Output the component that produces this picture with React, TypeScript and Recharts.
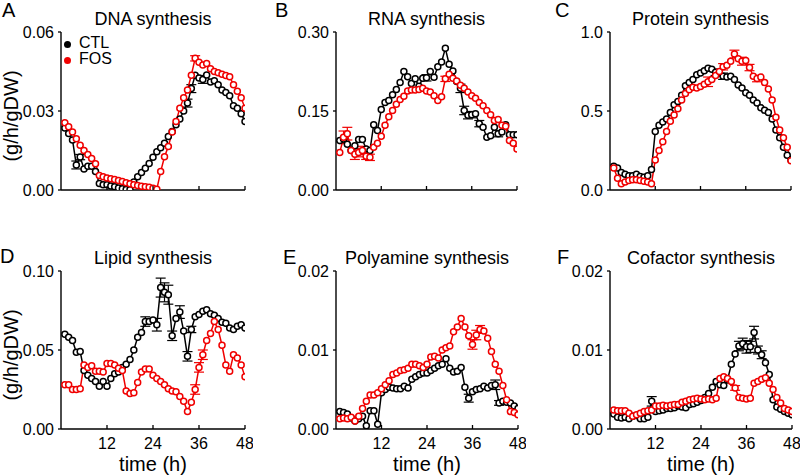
import React from 'react';
import { LineChart, Line, XAxis, YAxis, ErrorBar, Legend } from 'recharts';

const FONT = '"Liberation Sans", Arial, Helvetica, sans-serif';
const BLACK = '#000000';
const RED = '#f00000';

// ---- data ----
const hours = [1, 2, 3, 4, 5, 6, 7, 8, 9, 10, 11, 12, 13, 14, 15, 16, 17, 18, 19, 20, 21, 22, 23, 24,
  25, 26, 27, 28, 29, 30, 31, 32, 33, 34, 35, 36, 37, 38, 39, 40, 41, 42, 43, 44, 45, 46, 47, 48];
const xTicks = [12, 24, 36, 48];
const seriesNames = ['CTL', 'FOS'];

const dnaCtl = [0.0235, 0.0215, 0.019, 0.0095, 0.0125, 0.008, 0.009, 0.009, 0.007, 0.0025, 0.002, 0.002,
  0.0015, 0.0012, 0.0008, 0.0005, 0.0002, 0.0001, 0.003, 0.005, 0.0066, 0.0083, 0.0101, 0.0124,
  0.0145, 0.016, 0.0178, 0.0203, 0.0222, 0.0248, 0.027, 0.03, 0.033, 0.0385, 0.0436, 0.0425,
  0.042, 0.0437, 0.041, 0.0415, 0.04, 0.038, 0.037, 0.0358, 0.032, 0.031, 0.029, 0.026];
const dnaFos = [0.0255, 0.024, 0.022, 0.0195, 0.017, 0.015, 0.0135, 0.012, 0.01, 0.0055, 0.005, 0.0046,
  0.0043, 0.004, 0.0036, 0.0032, 0.0028, 0.0024, 0.002, 0.0017, 0.0014, 0.0012, 0.001, 0.0007,
  0.0003, 0.007, 0.0126, 0.0165, 0.022, 0.026, 0.031, 0.035, 0.038, 0.0436, 0.05, 0.0485,
  0.0475, 0.048, 0.046, 0.045, 0.0445, 0.044, 0.0435, 0.043, 0.04, 0.0375, 0.035, 0.031];
const dnaCtlErr: [number, number][] = [[4, 0.0015], [5, 0.001], [33, 0.0015], [34, 0.0015], [37, 0.0015]];
const dnaFosErr: [number, number][] = [[35, 0.001]];

const rnaCtl = [0.094, 0.097, 0.087, 0.075, 0.084, 0.096, 0.096, 0.078, 0.075, 0.124, 0.113, 0.153,
  0.166, 0.17, 0.181, 0.191, 0.204, 0.225, 0.215, 0.202, 0.211, 0.197, 0.212, 0.213,
  0.225, 0.214, 0.234, 0.243, 0.269, 0.239, 0.226, 0.206, 0.193, 0.151, 0.142, 0.143,
  0.145, 0.126, 0.119, 0.1, 0.103, 0.119, 0.107, 0.11, 0.124, 0.105, 0.105, 0.105];
const rnaFos = [0.071, 0.1, 0.107, 0.075, 0.068, 0.071, 0.075, 0.064, 0.062, 0.081, 0.089, 0.102,
  0.123, 0.139, 0.151, 0.163, 0.172, 0.178, 0.188, 0.19, 0.19, 0.191, 0.193, 0.188,
  0.186, 0.179, 0.17, 0.177, 0.211, 0.22, 0.212, 0.207, 0.199, 0.193, 0.186, 0.179,
  0.174, 0.166, 0.16, 0.151, 0.143, 0.132, 0.134, 0.123, 0.121, 0.094, 0.089, 0.078];
const rnaCtlErr: [number, number][] = [[24, 0.006], [33, 0.008], [34, 0.008], [35, 0.007], [36, 0.006], [38, 0.006], [43, 0.006]];
const rnaFosErr: [number, number][] = [[2, 0.012], [3, 0.012], [5, 0.01], [6, 0.008], [7, 0.008], [8, 0.006], [9, 0.006], [29, 0.005]];

const protCtl = [0.15, 0.14, 0.11, 0.1, 0.09, 0.09, 0.1, 0.085, 0.08, 0.09, 0.13, 0.37,
  0.41, 0.43, 0.45, 0.49, 0.54, 0.56, 0.6, 0.66, 0.68, 0.7, 0.73, 0.74,
  0.755, 0.77, 0.765, 0.745, 0.74, 0.72, 0.715, 0.72, 0.7, 0.665, 0.645, 0.615,
  0.6, 0.57, 0.55, 0.52, 0.505, 0.49, 0.45, 0.38, 0.33, 0.27, 0.22, 0.19];
const protFos = [0.14, 0.075, 0.04, 0.05, 0.06, 0.065, 0.065, 0.06, 0.055, 0.05, 0.04, 0.19,
  0.25, 0.305, 0.37, 0.435, 0.475, 0.515, 0.57, 0.61, 0.635, 0.65, 0.645, 0.655,
  0.67, 0.685, 0.7, 0.725, 0.75, 0.78, 0.79, 0.815, 0.86, 0.83, 0.815, 0.82,
  0.775, 0.72, 0.705, 0.715, 0.68, 0.64, 0.57, 0.46, 0.38, 0.33, 0.27, 0.185];
const protCtlErr: [number, number][] = [[28, 0.02], [30, 0.02]];
const protFosErr: [number, number][] = [[26, 0.03], [30, 0.02], [33, 0.025], [35, 0.025], [37, 0.02], [39, 0.02]];

const lipCtl = [0.06, 0.058, 0.056, 0.0485, 0.049, 0.037, 0.034, 0.032, 0.03, 0.027, 0.03, 0.027,
  0.032, 0.035, 0.036, 0.039, 0.041, 0.044, 0.05, 0.058, 0.061, 0.068, 0.068, 0.069,
  0.066, 0.0895, 0.0865, 0.085, 0.059, 0.07, 0.074, 0.062, 0.046, 0.063, 0.071, 0.0725,
  0.0745, 0.0755, 0.073, 0.072, 0.07, 0.0675, 0.067, 0.064, 0.063, 0.065, 0.066, 0.064];
const lipFos = [0.028, 0.028, 0.025, 0.025, 0.0255, 0.0405, 0.039, 0.04, 0.0365, 0.0365, 0.036, 0.0415,
  0.0415, 0.0405, 0.0385, 0.037, 0.024, 0.0225, 0.023, 0.0295, 0.036, 0.038, 0.038, 0.034,
  0.032, 0.03, 0.028, 0.0255, 0.024, 0.0235, 0.0205, 0.0175, 0.011, 0.017, 0.025, 0.039,
  0.047, 0.056, 0.0605, 0.068, 0.063, 0.053, 0.0405, 0.0365, 0.047, 0.045, 0.0405, 0.033];
const lipCtlErr: [number, number][] = [[22, 0.003], [25, 0.004], [26, 0.006], [27, 0.006], [28, 0.006], [29, 0.003], [31, 0.004], [33, 0.003], [34, 0.002]];
const lipFosErr: [number, number][] = [[35, 0.003], [36, 0.003], [37, 0.003]];

const polyCtl = [0.0022, 0.0021, 0.0019, 0.0014, 0.001, 0.0013, 0.0016, 0.0004, 0.0023, 0.0023, 0.0006, 0.0046,
  0.005, 0.0053, 0.0052, 0.0051, 0.0051, 0.0054, 0.0052, 0.0063, 0.0066, 0.0069, 0.0071, 0.0071,
  0.0074, 0.0077, 0.008, 0.0082, 0.0089, 0.0077, 0.0072, 0.0073, 0.0078, 0.0053, 0.0039, 0.0047,
  0.005, 0.0051, 0.0054, 0.0052, 0.0055, 0.0056, 0.0033, 0.0035, 0.0034, 0.0033, 0.0029, 0.0026];
const polyFos = [0.0013, 0.0014, 0.0013, 0.0015, 0.001, 0.0016, 0.0026, 0.0035, 0.0043, 0.0043, 0.0046, 0.0051,
  0.0056, 0.0061, 0.0069, 0.0071, 0.0074, 0.0075, 0.0077, 0.0082, 0.0082, 0.008, 0.0078, 0.0082,
  0.0091, 0.0092, 0.009, 0.01, 0.0103, 0.0105, 0.0123, 0.0129, 0.014, 0.0129, 0.0118, 0.0107,
  0.0119, 0.0126, 0.0124, 0.0115, 0.0098, 0.0082, 0.0073, 0.0055, 0.0037, 0.0022, 0.0021, 0.0018];
const polyCtlErr: [number, number][] = [[35, 0.0005], [42, 0.0006], [43, 0.0003]];
const polyFosErr: [number, number][] = [[36, 0.0006], [37, 0.0006], [38, 0.0005]];

const cofCtl = [0.0019, 0.0015, 0.0014, 0.0015, 0.0013, 0.0016, 0.0017, 0.0013, 0.0013, 0.0015, 0.0035, 0.0022,
  0.0023, 0.0024, 0.0026, 0.0026, 0.0027, 0.0029, 0.0028, 0.0027, 0.0031, 0.0032, 0.0034, 0.0036,
  0.004, 0.0045, 0.0053, 0.006, 0.0056, 0.0055, 0.0062, 0.0082, 0.0095, 0.0105, 0.0108, 0.0104,
  0.0104, 0.0122, 0.01, 0.0094, 0.0084, 0.0069, 0.0037, 0.0028, 0.0025, 0.0022, 0.002, 0.0018];
const cofFos = [0.0024, 0.0023, 0.0023, 0.0023, 0.002, 0.0016, 0.0018, 0.002, 0.0022, 0.0023, 0.0024, 0.0029,
  0.0029, 0.003, 0.0029, 0.003, 0.0031, 0.0031, 0.0034, 0.0035, 0.0037, 0.0038, 0.0039, 0.0038,
  0.0037, 0.0038, 0.0037, 0.0039, 0.0064, 0.0066, 0.0064, 0.006, 0.0052, 0.004, 0.0039, 0.0038,
  0.0039, 0.0058, 0.006, 0.0063, 0.0065, 0.0058, 0.005, 0.004, 0.0033, 0.0026, 0.0024, 0.0022];
const cofCtlErr: [number, number][] = [[11, 0.0006], [34, 0.0006], [35, 0.0007], [36, 0.0008], [37, 0.0007], [38, 0.0008], [39, 0.0005], [40, 0.0005]];
const cofFosErr: [number, number][] = [[33, 0.0003]];

function buildRows(ctl: number[], fos: number[], ctlErr: [number, number][], fosErr: [number, number][]) {
  const ce = new Map(ctlErr);
  const fe = new Map(fosErr);
  return hours.map((t, i) => ({ t, ctl: ctl[i], fos: fos[i], ctlErr: ce.get(t), fosErr: fe.get(t) }));
}

// ---- layout ----
const panels = [
  { letter: 'A', title: 'DNA synthesis', rows: buildRows(dnaCtl, dnaFos, dnaCtlErr, dnaFosErr), yTicks: [0, 0.03, 0.06], dec: 2, left: 61, top: 32, w: 184, h: 158, bottom: false, legend: true, ylab: true, lx: 2, ly: 17 },
  { letter: 'B', title: 'RNA synthesis', rows: buildRows(rnaCtl, rnaFos, rnaCtlErr, rnaFosErr), yTicks: [0, 0.15, 0.3], dec: 2, left: 336, top: 32, w: 181, h: 158, bottom: false, legend: false, ylab: false, lx: 275, ly: 17 },
  { letter: 'C', title: 'Protein synthesis', rows: buildRows(protCtl, protFos, protCtlErr, protFosErr), yTicks: [0, 0.5, 1.0], dec: 1, left: 610, top: 32, w: 181, h: 158, bottom: false, legend: false, ylab: false, lx: 555, ly: 17 },
  { letter: 'D', title: 'Lipid synthesis', rows: buildRows(lipCtl, lipFos, lipCtlErr, lipFosErr), yTicks: [0, 0.05, 0.1], dec: 2, left: 61, top: 271, w: 184, h: 158, bottom: true, legend: false, ylab: true, lx: 0, ly: 263 },
  { letter: 'E', title: 'Polyamine synthesis', rows: buildRows(polyCtl, polyFos, polyCtlErr, polyFosErr), yTicks: [0, 0.01, 0.02], dec: 2, left: 336, top: 271, w: 182, h: 158, bottom: true, legend: false, ylab: false, lx: 283, ly: 264 },
  { letter: 'F', title: 'Cofactor synthesis', rows: buildRows(cofCtl, cofFos, cofCtlErr, cofFosErr), yTicks: [0, 0.01, 0.02], dec: 2, left: 610, top: 271, w: 182, h: 158, bottom: true, legend: false, ylab: false, lx: 557, ly: 264 },
];

const YW = 60;
const MT = 10;
const MR = 8;

function XTick(props: any) {
  const { x, y, payload, showLabel } = props;
  return (
    <g>
      <line x1={x} x2={x} y1={y} y2={y - 4} stroke={BLACK} strokeWidth={1.3} />
      {showLabel && (
        <text x={x} y={y + 20} textAnchor="middle" fontSize={16} fontFamily={FONT} fill={BLACK}>
          {payload.value}
        </text>
      )}
    </g>
  );
}

function Panel({ p }: { p: any }) {
  const XH = p.bottom ? 44 : 14;
  const width = YW + p.w + MR;
  const height = MT + p.h + XH;
  const ymax = p.yTicks[p.yTicks.length - 1];
  return (
    <div style={{ position: 'absolute', left: p.left - YW, top: p.top - MT, width, height }}>
      <LineChart width={width} height={height} data={p.rows} margin={{ top: MT, right: MR, left: 0, bottom: 0 }}>
        <XAxis
          dataKey="t"
          type="number"
          domain={[0, 48]}
          ticks={xTicks}
          interval={0}
          height={XH}
          allowDataOverflow
          axisLine={{ stroke: BLACK, strokeWidth: 1.4 }}
          tickLine={false}
          tickSize={0}
          tickMargin={0}
          tick={(tp: any) => <XTick {...tp} showLabel={p.bottom} />}
        />
        <YAxis
          type="number"
          domain={[0, ymax]}
          ticks={p.yTicks}
          interval={0}
          width={YW}
          allowDataOverflow
          axisLine={{ stroke: BLACK, strokeWidth: 1.4 }}
          tickLine={{ stroke: BLACK, strokeWidth: 1.3 }}
          tickSize={3}
          tickMargin={4}
          tick={{ fill: BLACK, fontSize: 16, fontFamily: FONT }}
          tickFormatter={(v: number) => v.toFixed(p.dec)}
        />
        {p.legend && (
          <Legend
            layout="vertical"
            align="center"
            verticalAlign="middle"
            iconType="circle"
            iconSize={7}
            wrapperStyle={{ left: 63, top: 13, width: 70, fontFamily: FONT, fontSize: 15, lineHeight: '16px' }}
            formatter={(v: any) => <span style={{ color: BLACK, marginLeft: 4, fontSize: 16 }}>{v}</span>}
          />
        )}
        <Line
          type="linear"
          dataKey="ctl"
          name={seriesNames[0]}
          stroke={BLACK}
          strokeWidth={1.5}
          dot={{ r: 3, fill: '#ffffff', stroke: BLACK, strokeWidth: 1.5 }}
          activeDot={false}
          legendType="circle"
          isAnimationActive={false}
        >
          <ErrorBar dataKey="ctlErr" direction="y" width={5} stroke={BLACK} strokeWidth={1.2} />
        </Line>
        <Line
          type="linear"
          dataKey="fos"
          name={seriesNames[1]}
          stroke={RED}
          strokeWidth={1.5}
          dot={{ r: 3, fill: '#ffffff', stroke: RED, strokeWidth: 1.5 }}
          activeDot={false}
          legendType="circle"
          isAnimationActive={false}
        >
          <ErrorBar dataKey="fosErr" direction="y" width={5} stroke={RED} strokeWidth={1.2} />
        </Line>
      </LineChart>
    </div>
  );
}

export default function App() {
  return (
    <div style={{ position: 'absolute', left: 0, top: 0, width: 800, height: 476, background: '#fff', overflow: 'hidden', fontFamily: FONT }}>
      {panels.map((p) => (
        <Panel key={p.letter} p={p} />
      ))}
      <svg width={800} height={476} style={{ position: 'absolute', left: 0, top: 0, pointerEvents: 'none' }}>
        {panels.map((p) => {
          const cx = p.left + p.w / 2;
          const titleY = p.top - 7;
          return (
            <g key={p.letter} fontFamily={FONT} fill={BLACK} fontWeight="normal">
              <text x={p.lx} y={p.ly} fontSize={20}>{p.letter}</text>
              <text x={cx} y={titleY} fontSize={18} textAnchor="middle">{p.title}</text>
              {p.ylab && (
                <text
                  x={0}
                  y={0}
                  fontSize={20}
                  textAnchor="middle"
                  dominantBaseline="central"
                  transform={`translate(11, ${p.top + p.h / 2 + 5}) rotate(-90)`}
                >
                  (g/h/gDW)
                </text>
              )}
              {p.bottom && (
                <text x={cx} y={471} fontSize={20} textAnchor="middle">time (h)</text>
              )}
            </g>
          );
        })}
      </svg>
    </div>
  );
}
